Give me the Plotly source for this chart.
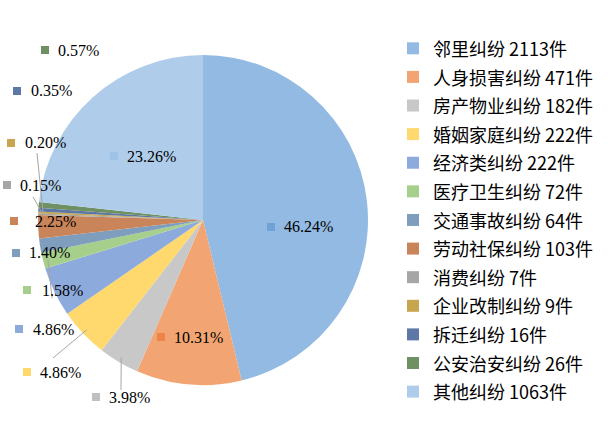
import math
import plotly.graph_objects as go

# ---------------- data ----------------
categories = ["邻里纠纷", "人身损害纠纷", "房产物业纠纷", "婚姻家庭纠纷", "经济类纠纷",
              "医疗卫生纠纷", "交通事故纠纷", "劳动社保纠纷", "消费纠纷", "企业改制纠纷",
              "拆迁纠纷", "公安治安纠纷", "其他纠纷"]
counts = [2113, 471, 182, 222, 222, 72, 64, 103, 7, 9, 16, 26, 1063]
unit = "件"

# ---------------- styles ----------------
colors = ["#92BAE2", "#F2A573", "#C8C8C8", "#FFD86E", "#8DAADD", "#A6CF8C", "#7F9EBE",
          "#C98459", "#A6A6A6", "#C8A64F", "#5D77A6", "#6F9062", "#AFCDEA"]
square_colors = ["#6FA2D6", "#EE8548", "#C0C0C0", "#FFD86E", "#8DAADD", "#A6CF8C", "#7F9EBE",
                 "#C98459", "#A6A6A6", "#C8A64F", "#5D77A6", "#6F9062", "#9EC3E6"]

W, H = 608, 442
CX, CY, R = 203, 220, 165

# label layout in pixels: square-left x, centre y, text-left x
label_sq_x = [267, 157, 92, 23, 15, 23, 12, 10, 3, 7, 13, 41, 110]
label_cy = [227, 337, 397, 372, 329, 290, 253, 221, 185, 143, 91, 50, 156]
label_tx = [282, 172, 107, 38, 31, 40, 27, 33, 18, 23, 29, 56, 125]
# leader line label-side end point (None = no leader line)
leader_end = [None, None, (121, 390), (53, 358), None, (52, 298), None, None,
              (33, 197), (37, 153), None, None, None]

total = sum(counts)
legend_labels = [f"<span style='font-size:18px'>{c} {v}{unit}</span>" for c, v in zip(categories, counts)]

fig = go.Figure()
fig.add_trace(go.Pie(
    labels=legend_labels,
    values=counts,
    sort=False,
    direction="clockwise",
    rotation=0,
    marker=dict(colors=colors, line=dict(width=0)),
    textinfo="none",
    hoverinfo="label+percent",
    domain=dict(x=[(CX - R) / W, (CX + R) / W],
                y=[(H - CY - R) / H, (H - CY + R) / H]),
))

def px(x):
    return x / W

def py(y):
    return 1 - y / H

annotations = []
shapes = []
cum = 0
for i, v in enumerate(counts):
    frac = v / total
    mid = (cum + frac / 2) * 2 * math.pi
    cum += frac
    pct = f"{frac * 100:.2f}%"
    sx, cy, tx = label_sq_x[i], label_cy[i], label_tx[i]
    shapes.append(dict(type="rect", xref="paper", yref="paper",
                       x0=px(sx), x1=px(sx + 8), y0=py(cy + 4), y1=py(cy - 4),
                       fillcolor=square_colors[i], line=dict(width=0)))
    annotations.append(dict(xref="paper", yref="paper", x=px(tx), y=py(cy),
                            xanchor="left", yanchor="middle", showarrow=False,
                            text=pct, font=dict(family="Liberation Serif", size=16, color="#000000")))
    if leader_end[i] is not None:
        ex = CX + R * 0.97 * math.sin(mid)
        ey = CY - R * 0.97 * math.cos(mid)
        lx, ly = leader_end[i]
        shapes.append(dict(type="line", xref="paper", yref="paper",
                           x0=px(ex), y0=py(ey), x1=px(lx), y1=py(ly),
                           line=dict(color="#A6A6A6", width=1)))

fig.update_layout(
    width=W, height=H,
    margin=dict(l=0, r=0, t=0, b=0),
    paper_bgcolor="#FFFFFF",
    plot_bgcolor="#FFFFFF",
    showlegend=True,
    legend=dict(x=393 / W, y=py(29), xanchor="left", yanchor="top",
                font=dict(family="Noto Sans CJK SC", size=19.7, color="#000000"),
                bgcolor="rgba(0,0,0,0)", borderwidth=0, traceorder="normal"),
    annotations=annotations,
    shapes=shapes,
)

fig.write_html("out.html")
